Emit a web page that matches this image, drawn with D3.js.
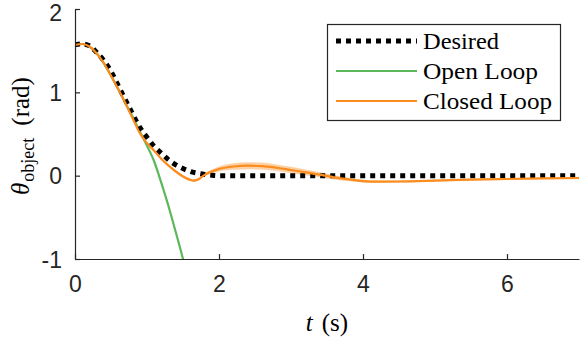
<!DOCTYPE html>
<html>
<head>
<meta charset="utf-8">
<script src="https://cdn.jsdelivr.net/npm/d3@7"></script>
<style>
  body { margin: 0; background: #fff; }
  svg { display: block; }
</style>
</head>
<body>
<div id="chart"></div>
<script>
// chart data
var xTicks = [0, 2, 4, 6];
var yTicks = [-1, 0, 1, 2];

var desiredT = [0, 0.1, 0.2, 0.3, 0.4, 0.5, 0.6, 0.7, 0.8, 0.9, 1.0, 1.1, 1.2, 1.3, 1.4, 1.5, 1.6, 1.7, 1.8, 1.9, 2.0, 7.0];
var desiredV = [1.57, 1.58, 1.56, 1.48, 1.38, 1.25, 1.08, 0.91, 0.74, 0.58, 0.46, 0.35, 0.27, 0.19, 0.13, 0.085, 0.05, 0.03, 0.015, 0.005, 0, 0];

var openT = [0, 0.1, 0.2, 0.3, 0.4, 0.5, 0.6, 0.7, 0.8, 0.9, 1.0, 1.1, 1.2, 1.3, 1.4, 1.5, 1.55];
var openV = [1.57, 1.58, 1.55, 1.47, 1.35, 1.2, 1.04, 0.87, 0.71, 0.53, 0.36, 0.17, -0.09, -0.37, -0.68, -1.0, -1.18];
var openSpread = [0.01, 0.01, 0.01, 0.01, 0.01, 0.01, 0.012, 0.012, 0.015, 0.015, 0.018, 0.02, 0.022, 0.025, 0.028, 0.03, 0.03];

var closedT = [0, 0.1, 0.2, 0.3, 0.4, 0.5, 0.6, 0.7, 0.8, 0.9, 1.0, 1.1, 1.2, 1.3, 1.4, 1.5, 1.6, 1.65, 1.7, 1.8, 1.9, 2.0, 2.2, 2.4, 2.6, 2.8, 3.0, 3.2, 3.4, 3.6, 3.8, 4.0, 4.2, 4.5, 5.0, 5.5, 6.0, 6.5, 7.0];
var closedV = [1.57, 1.58, 1.55, 1.47, 1.35, 1.2, 1.04, 0.87, 0.69, 0.51, 0.39, 0.3, 0.2, 0.12, 0.05, -0.01, -0.05, -0.06, -0.05, 0.01, 0.05, 0.08, 0.11, 0.12, 0.115, 0.095, 0.068, 0.04, 0.012, -0.02, -0.045, -0.065, -0.072, -0.07, -0.06, -0.048, -0.04, -0.033, -0.028];
var closedSpread = [0.008, 0.008, 0.008, 0.008, 0.008, 0.008, 0.008, 0.01, 0.01, 0.01, 0.01, 0.012, 0.012, 0.012, 0.012, 0.015, 0.015, 0.015, 0.015, 0.02, 0.025, 0.03, 0.038, 0.042, 0.042, 0.04, 0.038, 0.035, 0.03, 0.025, 0.02, 0.016, 0.013, 0.012, 0.01, 0.01, 0.01, 0.01, 0.01];

var legendNames = ["Desired", "Open Loop", "Closed Loop"];

var svgWidth = 580;
var svgHeight = 338;
var margin = { top: 9, left: 75, right: 1, bottom: 79 };
var width = svgWidth - margin.left - margin.right;
var height = svgHeight - margin.top - margin.bottom;

var green = "#5cb85a";
var orange = "#fb8c1e";
var axisColor = "#262626";

var svg = d3.select("#chart").append("svg")
  .attr("width", svgWidth)
  .attr("height", svgHeight);

svg.append("defs").append("clipPath").attr("id", "plotClip")
  .append("rect").attr("x", 0).attr("y", 0).attr("width", width + 1).attr("height", height);

var chartGroup = svg.append("g").attr("transform", `translate(${margin.left},${margin.top})`);

var x = d3.scaleLinear().domain([0, 7]).range([0, width]);
var y = d3.scaleLinear().domain([-1, 2]).range([height, 0]);

function pts(ts, vs) {
  return ts.map(function(t, i) { return { t: t, v: vs[i] }; });
}

var line = d3.line().x(d => x(d.t)).y(d => y(d.v)).curve(d3.curveMonotoneX);
var band = d3.area().x(d => x(d.t)).y0(d => y(d.v - d.s)).y1(d => y(d.v + d.s)).curve(d3.curveMonotoneX);

var plot = chartGroup.append("g").attr("clip-path", "url(#plotClip)");

// shaded spread bands
var openPts = openT.map((t, i) => ({ t: t, v: openV[i], s: openSpread[i] }));
var closedPts = closedT.map((t, i) => ({ t: t, v: closedV[i], s: closedSpread[i] }));

plot.append("path").datum(openPts).attr("d", band)
  .attr("fill", green).attr("opacity", 0.35);
plot.append("path").datum(closedPts).attr("d", band)
  .attr("fill", orange).attr("opacity", 0.4);

plot.append("path").datum(pts(openT, openV)).attr("d", line)
  .attr("fill", "none").attr("stroke", green).attr("stroke-width", 2.2);

plot.append("path").datum(pts(desiredT, desiredV)).attr("d", line)
  .attr("fill", "none").attr("stroke", "#000").attr("stroke-width", 5)
  .attr("stroke-dasharray", "5,5");

plot.append("path").datum(pts(closedT, closedV)).attr("d", line)
  .attr("fill", "none").attr("stroke", orange).attr("stroke-width", 2.2);

// axes (plain hyphen minus like the original)
var fmt = d => String(d);
var xAxis = chartGroup.append("g")
  .attr("transform", `translate(0,${height})`)
  .call(d3.axisBottom(x).tickValues(xTicks).tickFormat(fmt).tickSizeInner(-5).tickSizeOuter(0).tickPadding(17));
var yAxis = chartGroup.append("g")
  .call(d3.axisLeft(y).tickValues(yTicks).tickFormat(fmt).tickSizeInner(-5).tickSizeOuter(0).tickPadding(13));

[xAxis, yAxis].forEach(function(a) {
  a.select(".domain").attr("stroke", axisColor).attr("stroke-width", 1.2);
  a.selectAll(".tick line").attr("stroke", axisColor).attr("stroke-width", 1.2);
  a.selectAll(".tick text")
    .attr("fill", axisColor)
    .style("font-family", "'Liberation Sans', Arial, sans-serif")
    .style("font-size", "23px");
});
xAxis.selectAll(".tick text").attr("dy", "0.71em");
// top label sits a little lower so it is not cut by the edge
yAxis.selectAll(".tick text").attr("dy", d => d === 2 ? "0.5em" : "0.36em");

// axis labels
var serif = "'Liberation Serif', 'Times New Roman', serif";
var xLabel = svg.append("text")
  .attr("x", margin.left + width / 2)
  .attr("y", 331)
  .attr("text-anchor", "middle")
  .style("font-family", serif)
  .style("font-size", "25px")
  .attr("fill", "#000");
xLabel.append("tspan").style("font-style", "italic").text("t");
xLabel.append("tspan").attr("dx", 9).text("(s)");

var yLabel = svg.append("text")
  .attr("transform", "translate(29,136) rotate(-90)")
  .attr("text-anchor", "middle")
  .style("font-family", serif)
  .style("font-size", "25px")
  .attr("fill", "#000");
yLabel.append("tspan").style("font-style", "italic").text("θ");
yLabel.append("tspan").attr("dy", 5).attr("dx", 1).style("font-size", "18px").text("object");
yLabel.append("tspan").attr("dy", -5).attr("dx", 12).text("(rad)");

// legend
var legend = svg.append("g");
legend.append("rect")
  .attr("x", 327.5).attr("y", 24.5).attr("width", 233).attr("height", 96)
  .attr("fill", "#fff").attr("stroke", axisColor).attr("stroke-width", 1.2);

var legendRows = [41, 71, 101];
var legendWidths = [76, 115, 129];
legendNames.forEach(function(name, i) {
  var ly = legendRows[i];
  var seg = legend.append("line")
    .attr("x1", 336).attr("x2", 417).attr("y1", ly).attr("y2", ly);
  if (i === 0) {
    seg.attr("stroke", "#000").attr("stroke-width", 5).attr("stroke-dasharray", "5,5");
  } else {
    seg.attr("stroke", i === 1 ? green : orange).attr("stroke-width", 2.2);
  }
  legend.append("text")
    .attr("x", 423).attr("y", ly + 8)
    .style("font-family", serif)
    .style("font-size", "23px")
    .attr("textLength", legendWidths[i])
    .attr("lengthAdjust", "spacingAndGlyphs")
    .attr("fill", "#000")
    .text(name);
});
</script>
</body>
</html>
